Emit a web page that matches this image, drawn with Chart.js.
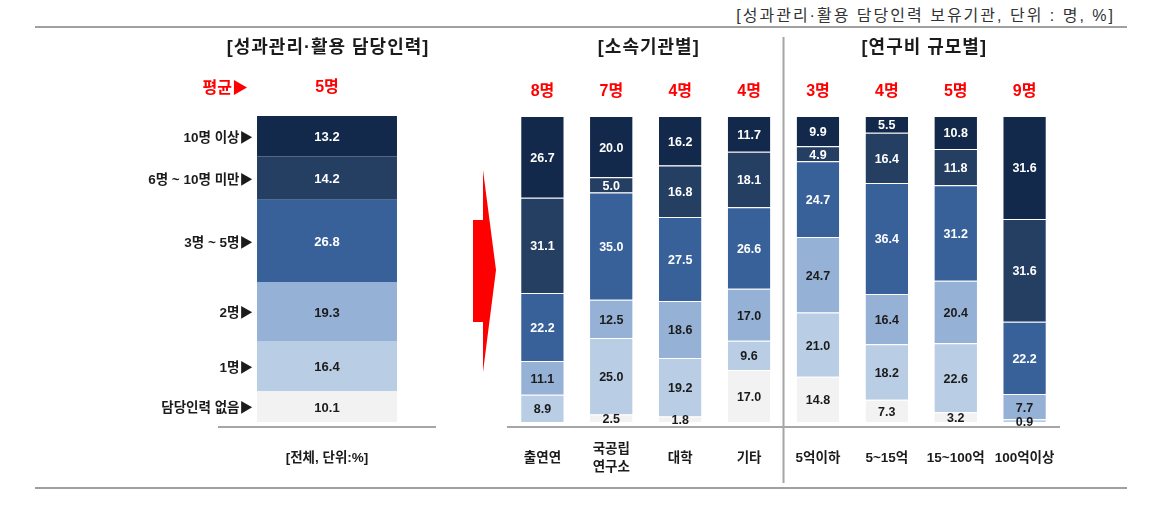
<!DOCTYPE html>
<html lang="ko">
<head>
<meta charset="utf-8">
<script src="https://cdn.jsdelivr.net/npm/chart.js@4.4.1/dist/chart.umd.min.js"></script>
<style>
  body { margin: 0; background: #fff; }
  #wrap { position: relative; width: 1164px; height: 521px; overflow: hidden; }
  #wrap canvas { position: absolute; left: 0; top: 0; }
  .rule { position: absolute; left: 35px; width: 1092px; height: 2px; background: #a0a0a0; }
  #header {
    position: absolute; right: 49px; top: 2px;
    font: 16px 'Liberation Sans', 'Noto Sans CJK KR', sans-serif;
    letter-spacing: 2px; color: #333;
  }
  #arrow { position: absolute; left: 0; top: 0; }
</style>
</head>
<body>
<div id="wrap">
  <div id="header">[성과관리·활용 담당인력 보유기관, 단위 : 명, %]</div>
  <div class="rule" style="top:26px"></div>
  <div class="rule" style="top:487px"></div>
  <svg id="arrow" width="520" height="400">
    <polygon points="473,220 483,220 483,170 496,270 483,372 483,322 473,322" fill="#ff0000"/>
  </svg>
  <canvas id="totalChart" width="1164" height="521"></canvas>
  <canvas id="groupChart" width="1164" height="521"></canvas>
</div>

<script>
const FONT = "'Liberation Sans', 'Noto Sans CJK KR', sans-serif";

// series, bottom of the stack first
const seriesNames = ['담당인력 없음', '1명', '2명', '3명 ~ 5명', '6명 ~ 10명 미만', '10명 이상'];
const seriesColors = ['#f2f2f2', '#b9cde5', '#95b1d6', '#38619a', '#253f63', '#13294b'];
const valueColors = ['#1b1b1b', '#1b1b1b', '#1b1b1b', '#ffffff', '#ffffff', '#ffffff'];

// 전체
const totalTitle = '[성과관리·활용 담당인력]';
const totalCategory = ['[전체, 단위:%]'];
const totalAverage = '5명';
const totalShares = [10.1, 16.4, 19.3, 26.8, 14.2, 13.2];

// 소속기관별 / 연구비 규모별
const groupTitles = ['[소속기관별]', '[연구비 규모별]'];
const groupSize = 4;
const groupCategories = ['출연연', ['국공립', '연구소'], '대학', '기타', '5억이하', '5~15억', '15~100억', '100억이상'];
const groupAverages = ['8명', '7명', '4명', '4명', '3명', '4명', '5명', '9명'];
const noStaff     = [0, 2.5, 1.8, 17.0, 14.8, 7.3, 3.2, 0];
const oneStaff    = [8.9, 25.0, 19.2, 9.6, 21.0, 18.2, 22.6, 0.9];
const twoStaff    = [11.1, 12.5, 18.6, 17.0, 24.7, 16.4, 20.4, 7.7];
const threeToFive = [22.2, 35.0, 27.5, 26.6, 24.7, 36.4, 31.2, 22.2];
const sixToTen    = [31.1, 5.0, 16.8, 18.1, 4.9, 16.4, 11.8, 31.6];
const tenPlus     = [26.7, 20.0, 16.2, 11.7, 9.9, 5.5, 10.8, 31.6];
const groupSeries = [noStaff, oneStaff, twoStaff, threeToFive, sixToTen, tenPlus];

// each bar is drawn as 100%
const barTotals = groupCategories.map((c, j) => groupSeries.reduce((s, arr) => s + arr[j], 0));

function makeDatasets(series, totals, extra) {
  return series.map((arr, i) => Object.assign({
    label: seriesNames[i],
    raw: arr,
    data: arr.map((v, j) => v / totals[j] * 100),
    backgroundColor: seriesColors[i],
    barPercentage: 1
  }, extra));
}

function scalesFor(labelCross) {
  return {
    x: {
      stacked: true,
      grid: { display: false },
      border: { display: true, color: '#a6a6a6', width: 2 },
      ticks: {
        color: '#1b1b1b', padding: 14, maxRotation: 0, autoSkip: false, crossAlign: labelCross,
        font: { family: FONT, size: 13.5, weight: 'bold', lineHeight: 1.333 }
      },
      afterFit(axis) { axis.height = 94; }
    },
    y: { stacked: true, display: false, min: -1.6, max: 100 }
  };
}

// value text in the middle of every segment
const segmentLabels = {
  id: 'segmentLabels',
  afterDatasetsDraw(chart, args, opts) {
    const ctx = chart.ctx;
    ctx.save();
    ctx.font = 'bold ' + opts.size + 'px ' + FONT;
    ctx.textAlign = 'center';
    ctx.textBaseline = 'middle';
    chart.data.datasets.forEach((ds, i) => {
      chart.getDatasetMeta(i).data.forEach((bar, j) => {
        const v = ds.raw[j];
        if (!v) return;
        ctx.fillStyle = valueColors[i];
        ctx.fillText(v.toFixed(1), bar.x, (bar.y + bar.base) / 2 + 1.5);
      });
    });
    ctx.restore();
  }
};

// titles, averages, series names, divider
const decorations = {
  id: 'decorations',
  afterDraw(chart) {
    const ctx = chart.ctx;
    const bars = chart.getDatasetMeta(0).data;
    const isTotal = chart.canvas.id === 'totalChart';
    ctx.save();
    ctx.textBaseline = 'middle';
    ctx.textAlign = 'center';

    ctx.font = 'bold 16px ' + FONT;
    ctx.fillStyle = '#ff0000';
    const averages = isTotal ? [totalAverage] : groupAverages;
    bars.forEach((bar, j) => ctx.fillText(averages[j], bar.x, isTotal ? 88 : 92));

    ctx.font = 'bold 18px ' + FONT;
    ctx.letterSpacing = '1px';
    ctx.fillStyle = '#1b1b1b';
    if (isTotal) {
      ctx.fillText(totalTitle, bars[0].x + 1, 48);
      ctx.letterSpacing = '0px';

      ctx.textAlign = 'right';
      ctx.font = 'bold 16px ' + FONT;
      ctx.fillStyle = '#ff0000';
      ctx.fillText('평균▶', 248, 89);

      ctx.font = 'bold 13.5px ' + FONT;
      ctx.fillStyle = '#1b1b1b';
      chart.data.datasets.forEach((ds, i) => {
        const bar = chart.getDatasetMeta(i).data[0];
        ctx.fillText(ds.label + '▶', 253, (bar.y + bar.base) / 2 + 2);
      });
    } else {
      groupTitles.forEach((t, g) => {
        const first = bars[g * groupSize].x;
        const last = bars[g * groupSize + groupSize - 1].x;
        ctx.fillText(t, (first + last) / 2 + 3, 48);
      });
      ctx.letterSpacing = '0px';
      const split = (bars[groupSize - 1].x + bars[groupSize].x) / 2;
      ctx.strokeStyle = '#a6a6a6';
      ctx.lineWidth = 2;
      ctx.beginPath();
      ctx.moveTo(split, 37);
      ctx.lineTo(split, 483);
      ctx.stroke();
    }
    ctx.restore();
  }
};

new Chart(document.getElementById('totalChart'), {
  type: 'bar',
  data: {
    labels: totalCategory,
    datasets: makeDatasets(totalShares.map(v => [v]), [100], { categoryPercentage: 0.648 })
  },
  options: {
    responsive: false,
    animation: false,
    layout: { padding: { left: 219, right: 729, top: 116, bottom: 0 } },
    plugins: { legend: { display: false }, tooltip: { enabled: false }, segmentLabels: { size: 13 } },
    scales: scalesFor('near')
  },
  plugins: [segmentLabels, decorations]
});

new Chart(document.getElementById('groupChart'), {
  type: 'bar',
  data: {
    labels: groupCategories,
    datasets: makeDatasets(groupSeries, barTotals, {
      categoryPercentage: 0.618,
      borderColor: '#ffffff',
      borderWidth: { top: 1 },
      borderSkipped: 'bottom'
    })
  },
  options: {
    responsive: false,
    animation: false,
    layout: { padding: { left: 508, right: 105, top: 116, bottom: 0 } },
    plugins: { legend: { display: false }, tooltip: { enabled: false }, segmentLabels: { size: 12.5 } },
    scales: scalesFor('center')
  },
  plugins: [segmentLabels, decorations]
});
</script>
</body>
</html>
